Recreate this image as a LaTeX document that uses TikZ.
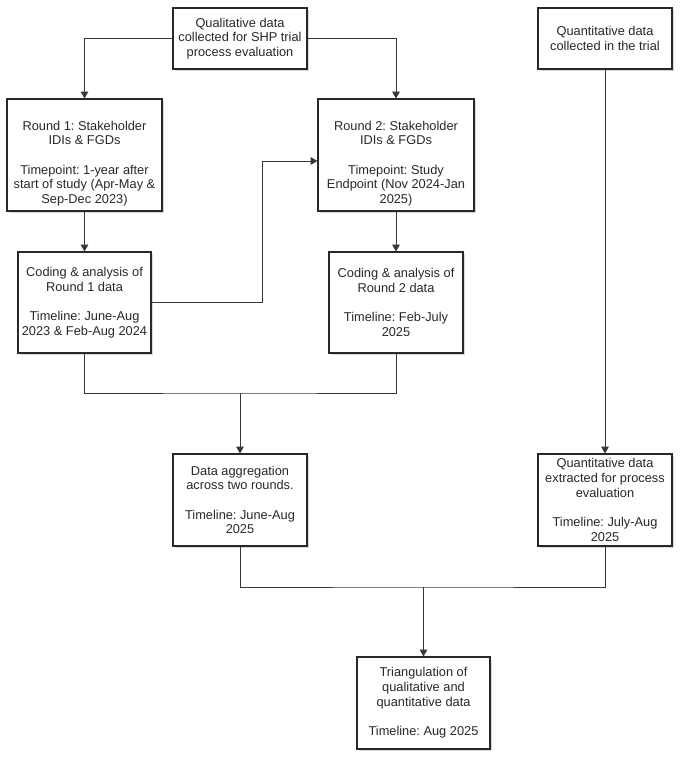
\documentclass[tikz,border=0pt]{standalone}
\usepackage{fontspec}
\setmainfont{Liberation Sans}
\usepackage{xcolor}
\usepackage{tikz}
\usetikzlibrary{arrows.meta,positioning,calc,shadows}
\definecolor{inkgray}{RGB}{40,40,40}
\definecolor{linegray}{RGB}{55,55,55}
\tikzset{
  procbox/.style={draw=inkgray,line width=0.9pt,fill=white,align=center,inner sep=1pt,
    font=\fontsize{9.6}{11}\selectfont,text=inkgray,
    drop shadow={opacity=0.3,shadow xshift=1.8pt,shadow yshift=-1.8pt}},
  boxtext/.style={align=center,inner sep=0pt,font=\fontsize{9.6}{11}\selectfont,text=inkgray},
  flow/.style={draw=linegray,line width=0.75pt,-{Triangle[width=5.6pt,length=5pt]}},
  joinline/.style={draw=linegray,line width=0.75pt}
}
\newcommand{\gap}{\\[11pt]}
\frenchspacing

\begin{document}
\begin{tikzpicture}[x=0.75pt,y=-0.75pt]
\useasboundingbox (0,0) rectangle (685,761);
\node[procbox,minimum width=100.5pt,minimum height=45.75pt] (qual) at (240,38.5)
  {Qualitative data\\collected for SHP trial\\process evaluation};
\node[procbox,minimum width=100.5pt,minimum height=45.75pt] (quant) at (605,38.5)
  {Quantitative data\\collected in the trial};
\node[procbox,minimum width=116.25pt,minimum height=84pt] (r1) at (84.5,155) {};
\node[boxtext] (r1text) at ([yshift=-6.5pt]r1.center)
  {Round 1: Stakeholder\\IDIs \& FGDs\gap Timepoint: 1-year after\\start of study (Apr-May \&\\Sep-Dec 2023)};
\node[procbox,minimum width=117pt,minimum height=84pt] (r2) at (396,155) {};
\node[boxtext] (r2text) at ([yshift=-6.5pt]r2.center)
  {Round 2: Stakeholder\\IDIs \& FGDs\gap Timepoint: Study\\Endpoint (Nov 2024-Jan\\2025)};
\node[procbox,minimum width=99.75pt,minimum height=75.75pt] (c1) at (84.5,302.5)
  {Coding \& analysis of\\Round 1 data\gap Timeline: June-Aug\\2023 \& Feb-Aug 2024};
\node[procbox,minimum width=100.5pt,minimum height=75.75pt] (c2) at (396,302.5)
  {Coding \& analysis of\\Round 2 data\gap Timeline: Feb-July\\2025};
\node[procbox,minimum width=100.5pt,minimum height=69pt] (agg) at (240,500)
  {Data aggregation\\across two rounds.\gap Timeline: June-Aug\\2025};
\node[procbox,minimum width=100.5pt,minimum height=69pt] (qext) at (605,500)
  {Quantitative data\\extracted for process\\evaluation\gap Timeline: July-Aug\\2025};
\node[procbox,minimum width=99.75pt,minimum height=69pt] (tri) at (423.5,703)
  {Triangulation of\\qualitative and\\quantitative data\gap Timeline: Aug 2025};
\coordinate (mergeA) at (240,393);
\coordinate (mergeB) at (423.5,587);
\draw[flow] (qual.west) -| (r1.north);
\draw[flow] (qual.east) -| (r2.north);
\draw[flow] (r1) -- (c1);
\draw[flow] (r2) -- (c2);
\draw[flow] (c1.east) -- ++(111,0) |- ([yshift=-4.5pt]r2.west);
\draw[joinline] (c1.south) |- (mergeA) -| (c2.south);
\draw[flow] (mergeA) -- (agg.north);
\draw[flow] (quant) -- (qext);
\draw[joinline] (agg.south) |- (mergeB) -| (qext.south);
\draw[flow] (mergeB) -- (tri.north);
\end{tikzpicture}
\end{document}
